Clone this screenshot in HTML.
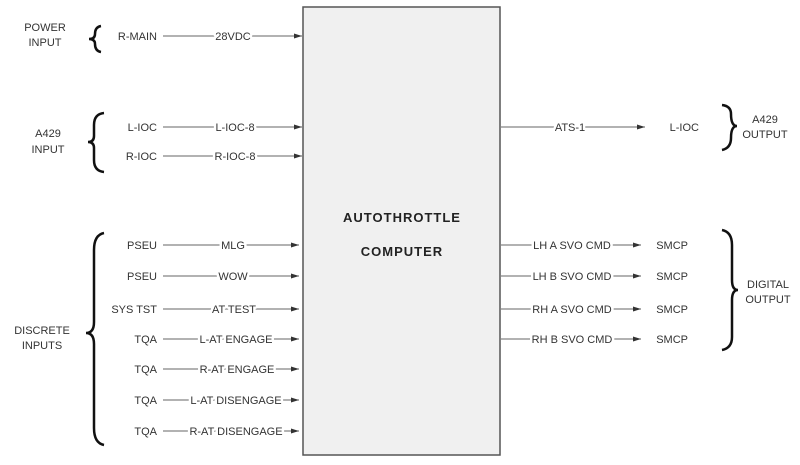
<!DOCTYPE html>
<html><head><style>
html,body{margin:0;padding:0;background:#fff;}
svg{display:block;font-family:"Liberation Sans",Arial,sans-serif;}
.l text{paint-order:stroke fill;stroke:#fff;stroke-width:5px;stroke-linejoin:round;}
</style></head><body>
<svg width="800" height="465" viewBox="0 0 800 465" xmlns="http://www.w3.org/2000/svg">
<defs><marker id="a" markerWidth="8" markerHeight="6" refX="8" refY="3" orient="auto" markerUnits="userSpaceOnUse"><path d="M0,0.5 L8,3 L0,5.5z" fill="#333"/></marker></defs>
<rect x="303" y="7" width="197" height="448" fill="#f0f0f0" stroke="#555" stroke-width="1.5"/>
<text x="402" y="222" font-size="13" font-weight="bold" text-anchor="middle" fill="#222" letter-spacing="1">AUTOTHROTTLE</text>
<text x="402" y="256" font-size="13" font-weight="bold" text-anchor="middle" fill="#222" letter-spacing="1">COMPUTER</text>
<g font-size="11" fill="#333">
<text x="45" y="31" text-anchor="middle">POWER</text><text x="45" y="46" text-anchor="middle">INPUT</text>
<text x="48" y="137" text-anchor="middle">A429</text><text x="48" y="153" text-anchor="middle">INPUT</text>
<text x="42" y="334" text-anchor="middle">DISCRETE</text><text x="42" y="349" text-anchor="middle">INPUTS</text>
<text x="765" y="123" text-anchor="middle">A429</text><text x="765" y="138" text-anchor="middle">OUTPUT</text>
<text x="768" y="288" text-anchor="middle">DIGITAL</text><text x="768" y="303" text-anchor="middle">OUTPUT</text>
</g>
<g fill="none" stroke="#111" stroke-width="2.5">
<path d="M101,26 Q95,27 95,34 Q95,39 89,39 Q95,39 95,44 Q95,51 101,52"/>
<path d="M104,113 Q94,114 94,125 L94,136 Q94,142 88,142 Q94,142 94,148 L94,160 Q94,171 104,172"/>
<path d="M104,233 Q94,235 94,250 L94,322 Q94,333 86,333 Q94,333 94,344 L94,428 Q94,443 104,445"/>
<path d="M722,105 Q731,106 731,114 Q731,126 737,126 Q731,126 731,138 Q731,148 722,150"/>
<path d="M722,230 Q732,232 732,245 L732,280 Q732,290 738,290 Q732,290 732,300 L732,337 Q732,348 722,350"/>
</g>
<g font-size="11" fill="#333">
<g text-anchor="end">
<text x="157" y="40">R-MAIN</text>
<text x="157" y="131">L-IOC</text>
<text x="157" y="160">R-IOC</text>
<text x="157" y="249">PSEU</text>
<text x="157" y="280">PSEU</text>
<text x="157" y="313">SYS TST</text>
<text x="157" y="343">TQA</text>
<text x="157" y="373">TQA</text>
<text x="157" y="404">TQA</text>
<text x="157" y="435">TQA</text>
<text x="699" y="131">L-IOC</text>
<text x="688" y="249">SMCP</text>
<text x="688" y="280">SMCP</text>
<text x="688" y="313">SMCP</text>
<text x="688" y="343">SMCP</text>
</g>
</g>
<g stroke="#666" stroke-width="1" marker-end="url(#a)">
<line x1="163" y1="36" x2="302" y2="36"/>
<line x1="163" y1="127" x2="302" y2="127"/>
<line x1="163" y1="156" x2="302" y2="156"/>
<line x1="163" y1="245" x2="299" y2="245"/>
<line x1="163" y1="276" x2="299" y2="276"/>
<line x1="163" y1="309" x2="299" y2="309"/>
<line x1="163" y1="339" x2="299" y2="339"/>
<line x1="163" y1="369" x2="299" y2="369"/>
<line x1="163" y1="400" x2="299" y2="400"/>
<line x1="163" y1="431" x2="299" y2="431"/>
<line x1="501" y1="127" x2="645" y2="127"/>
<line x1="501" y1="245" x2="641" y2="245"/>
<line x1="501" y1="276" x2="641" y2="276"/>
<line x1="501" y1="309" x2="641" y2="309"/>
<line x1="501" y1="339" x2="641" y2="339"/>
</g>
<g class="l" font-size="11" fill="#333" text-anchor="middle">
<text x="233" y="40">28VDC</text>
<text x="235" y="131">L-IOC-8</text>
<text x="235" y="160">R-IOC-8</text>
<text x="233" y="249">MLG</text>
<text x="233" y="280">WOW</text>
<text x="234" y="313">AT TEST</text>
<text x="236" y="343">L-AT ENGAGE</text>
<text x="237" y="373">R-AT ENGAGE</text>
<text x="236" y="404">L-AT DISENGAGE</text>
<text x="236" y="435">R-AT DISENGAGE</text>
<text x="570" y="131">ATS-1</text>
<text x="572" y="249">LH A SVO CMD</text>
<text x="572" y="280">LH B SVO CMD</text>
<text x="572" y="313">RH A SVO CMD</text>
<text x="572" y="343">RH B SVO CMD</text>
</g>
</svg>
</body></html>
